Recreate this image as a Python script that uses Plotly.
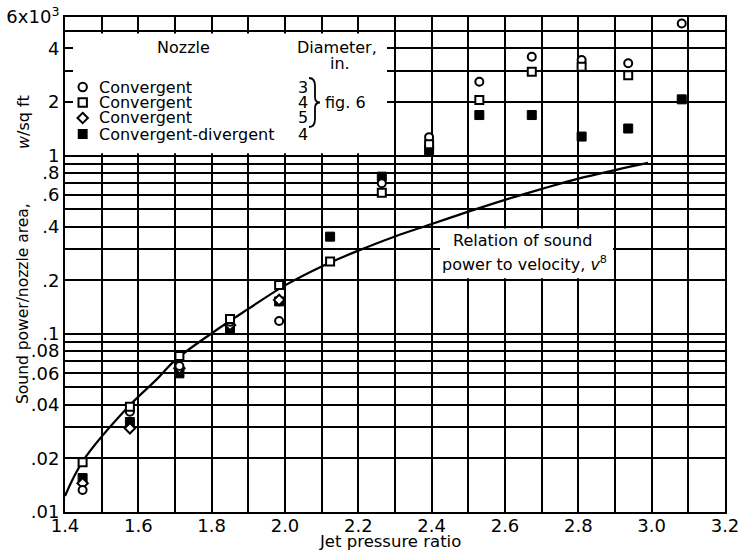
import numpy as np
import plotly.graph_objects as go

# ---------------- data ----------------
conv3_ratio = [1.448, 1.577, 1.712, 1.85, 1.984, 2.264, 2.393, 2.53, 2.673, 2.809, 2.936, 3.082]
conv3_power = [0.0133, 0.0365, 0.066, 0.117, 0.118, 0.70, 1.27, 2.60, 3.59, 3.44, 3.30, 5.52]

conv4_ratio = [1.448, 1.577, 1.712, 1.85, 1.984, 2.123, 2.264, 2.393, 2.53, 2.673, 2.809, 2.936]
conv4_power = [0.019, 0.039, 0.075, 0.121, 0.188, 0.255, 0.62, 1.16, 2.05, 2.96, 3.15, 2.83]

conv5_ratio = [1.448, 1.577, 1.712, 1.85, 1.984]
conv5_power = [0.0145, 0.0295, 0.064, 0.112, 0.155]

cd4_ratio = [1.448, 1.577, 1.712, 1.85, 1.984, 2.123, 2.264, 2.393, 2.53, 2.673, 2.809, 2.936, 3.082]
cd4_power = [0.0155, 0.032, 0.060, 0.107, 0.152, 0.351, 0.762, 1.07, 1.69, 1.69, 1.28, 1.42, 2.07]

curve_ratio = [1.40, 1.448, 1.577, 1.65, 1.70, 1.80, 1.90, 2.00, 2.10, 2.20, 2.30,
               2.40, 2.50, 2.60, 2.70, 2.80, 2.90, 2.99]
curve_power = [0.0123, 0.0192, 0.0398, 0.0555, 0.071, 0.1007, 0.138, 0.187, 0.239, 0.293, 0.352,
               0.413, 0.485, 0.565, 0.65, 0.743, 0.83, 0.91]

x_tick_vals = [1.4, 1.5, 1.6, 1.7, 1.8, 1.9, 2.0, 2.1, 2.2, 2.3, 2.4, 2.5, 2.6, 2.7, 2.8, 2.9, 3.0, 3.1, 3.2]
x_tick_text = ["1.4", "", "1.6", "", "1.8", "", "2.0", "", "2.2", "", "2.4", "", "2.6", "", "2.8", "", "3.0", "", "3.2"]

y_tick_vals = [0.01, 0.02, 0.03, 0.04, 0.05, 0.06, 0.07, 0.08, 0.09,
               0.1, 0.2, 0.3, 0.4, 0.5, 0.6, 0.7, 0.8, 0.9,
               1, 2, 3, 4, 5, 6]
y_tick_text = [".01", ".02", "", ".04", "", ".06", "", ".08", "",
               ".1", ".2", "", ".4", "", ".6", "", ".8", "",
               "1", "2", "", "4", "", "6x10<sup>3</sup>"]

legend_names = ["Convergent", "Convergent", "Convergent", "Convergent-divergent"]
legend_diam = ["3", "4", "5", "4"]

# ---------------- layout geometry ----------------
W, H = 740, 552
L, R, T, B = 65, 15, 17, 40
PW, PH = W - L - R, H - T - B
YMIN, YMAX = 0.01, 6.0
FONT = "DejaVu Sans"


def px(xp):
    return (xp - L) / PW


def py(yp):
    return (H - B - yp) / PH


def yfrac(v):
    return (np.log10(v) - np.log10(YMIN)) / (np.log10(YMAX) - np.log10(YMIN))


fig = go.Figure()

# theoretical curve
fig.add_trace(go.Scatter(x=curve_ratio, y=curve_power, mode="lines",
                         line=dict(color="black", width=2.2, shape="spline", smoothing=1.0),
                         hoverinfo="skip"))

open_mk = dict(color="white", size=8, line=dict(color="black", width=2))
fig.add_trace(go.Scatter(x=cd4_ratio, y=cd4_power, mode="markers",
                         marker=dict(symbol="square", color="black", size=9, line=dict(color="black", width=1))))
fig.add_trace(go.Scatter(x=conv5_ratio, y=conv5_power, mode="markers",
                         marker=dict(symbol="diamond", **open_mk)))
fig.add_trace(go.Scatter(x=conv3_ratio, y=conv3_power, mode="markers",
                         marker=dict(symbol="circle", **open_mk)))
fig.add_trace(go.Scatter(x=conv4_ratio, y=conv4_power, mode="markers",
                         marker=dict(symbol="square", **open_mk)))

annotations = []


def txt(x, y, s, size=16, xanchor="center", angle=0):
    annotations.append(dict(x=px(x), y=py(y), xref="paper", yref="paper", text=s, showarrow=False,
                            xanchor=xanchor, yanchor="middle", textangle=angle,
                            font=dict(family=FONT, size=size, color="black")))


row_y = [87, 102.5, 118, 134]
txt(183, 48, "Nozzle")
txt(337, 48, "Diameter,")
txt(340, 64, "in.")
for name, d, yy in zip(legend_names, legend_diam, row_y):
    txt(97, yy, name, xanchor="left")
    txt(303, yy, d)
txt(323, 102.5, "fig. 6", xanchor="left")

txt(522, 240, "Relation of sound")
txt(524, 263, "power to velocity, <i>v</i><sup>8</sup>")

txt(390, 541, "Jet pressure ratio", size=16.5)
txt(23, 304, "Sound power/nozzle area,", size=15.5, angle=-90)
txt(23, 122, "<i>w</i>/sq ft", size=16, angle=-90)

shapes = [
    # white legend panel covering the grid
    dict(type="rect", xref="paper", yref="paper", x0=px(73), x1=px(387),
         y0=yfrac(1.0) + 0.005, y1=yfrac(5.0) - 0.005,
         fillcolor="white", line=dict(width=0), layer="above"),
    # white panel behind the curve note
    dict(type="rect", xref="paper", yref="paper", x0=px(440), x1=px(613),
         y0=yfrac(0.2) + 0.004, y1=yfrac(0.4) - 0.004,
         fillcolor="white", line=dict(width=0), layer="above"),
]

# legend key symbols (drawn as shapes above the white panel)
kx, r = 82.7, 4.2
ky = row_y
shapes.append(dict(type="circle", xref="paper", yref="paper", x0=px(kx - r), x1=px(kx + r),
                   y0=py(ky[0] + r), y1=py(ky[0] - r), fillcolor="white",
                   line=dict(color="black", width=2), layer="above"))
shapes.append(dict(type="rect", xref="paper", yref="paper", x0=px(kx - r), x1=px(kx + r),
                   y0=py(ky[1] + r), y1=py(ky[1] - r), fillcolor="white",
                   line=dict(color="black", width=2), layer="above"))
d = 5.2
dpath = (f"M {px(kx)},{py(ky[2] - d)} L {px(kx + d)},{py(ky[2])} "
         f"L {px(kx)},{py(ky[2] + d)} L {px(kx - d)},{py(ky[2])} Z")
shapes.append(dict(type="path", xref="paper", yref="paper", path=dpath, fillcolor="white",
                   line=dict(color="black", width=2), layer="above"))
shapes.append(dict(type="rect", xref="paper", yref="paper", x0=px(kx - r), x1=px(kx + r),
                   y0=py(ky[3] + r), y1=py(ky[3] - r), fillcolor="black",
                   line=dict(color="black", width=1.5), layer="above"))

# brace path (pixel -> paper)
bp = [(309, 78), (315, 78), (315, 86), (315, 97), (315, 102.5), (320, 102.5),
      (315, 102.5), (315, 108), (315, 119), (315, 127), (309, 127)]
P = [(px(a), py(b)) for a, b in bp]
path = (f"M {P[0][0]},{P[0][1]} Q {P[1][0]},{P[1][1]} {P[2][0]},{P[2][1]} "
        f"L {P[3][0]},{P[3][1]} Q {P[4][0]},{P[4][1]} {P[5][0]},{P[5][1]} "
        f"Q {P[6][0]},{P[6][1]} {P[7][0]},{P[7][1]} L {P[8][0]},{P[8][1]} "
        f"Q {P[9][0]},{P[9][1]} {P[10][0]},{P[10][1]}")
shapes.append(dict(type="path", xref="paper", yref="paper", path=path,
                   line=dict(color="black", width=1.8), layer="above"))

axis_common = dict(showline=True, linecolor="black", linewidth=2, mirror=True,
                   showgrid=True, gridcolor="black", gridwidth=1.6, zeroline=False,
                   automargin=False,
                   tickfont=dict(family=FONT, size=18, color="black"))

fig.update_layout(
    width=W, height=H,
    margin=dict(l=L, r=R, t=T, b=B, autoexpand=False),
    paper_bgcolor="white", plot_bgcolor="white",
    showlegend=False,
    xaxis=dict(range=[1.4, 3.2], tickmode="array", tickvals=x_tick_vals, ticktext=x_tick_text,
               ticks="", ticklen=0, ticklabelstandoff=-4, **axis_common),
    yaxis=dict(type="log", range=[np.log10(YMIN), np.log10(YMAX)], tickmode="array",
               tickvals=y_tick_vals, ticktext=y_tick_text, ticks="inside", ticklen=8,
               tickwidth=1.6, tickcolor="black", **axis_common),
    annotations=annotations,
    shapes=shapes,
    font=dict(family=FONT, color="black"),
)

fig.write_html("out.html", config={"displayModeBar": False},
               post_script="document.body.style.margin='0';document.body.style.padding='0';")
